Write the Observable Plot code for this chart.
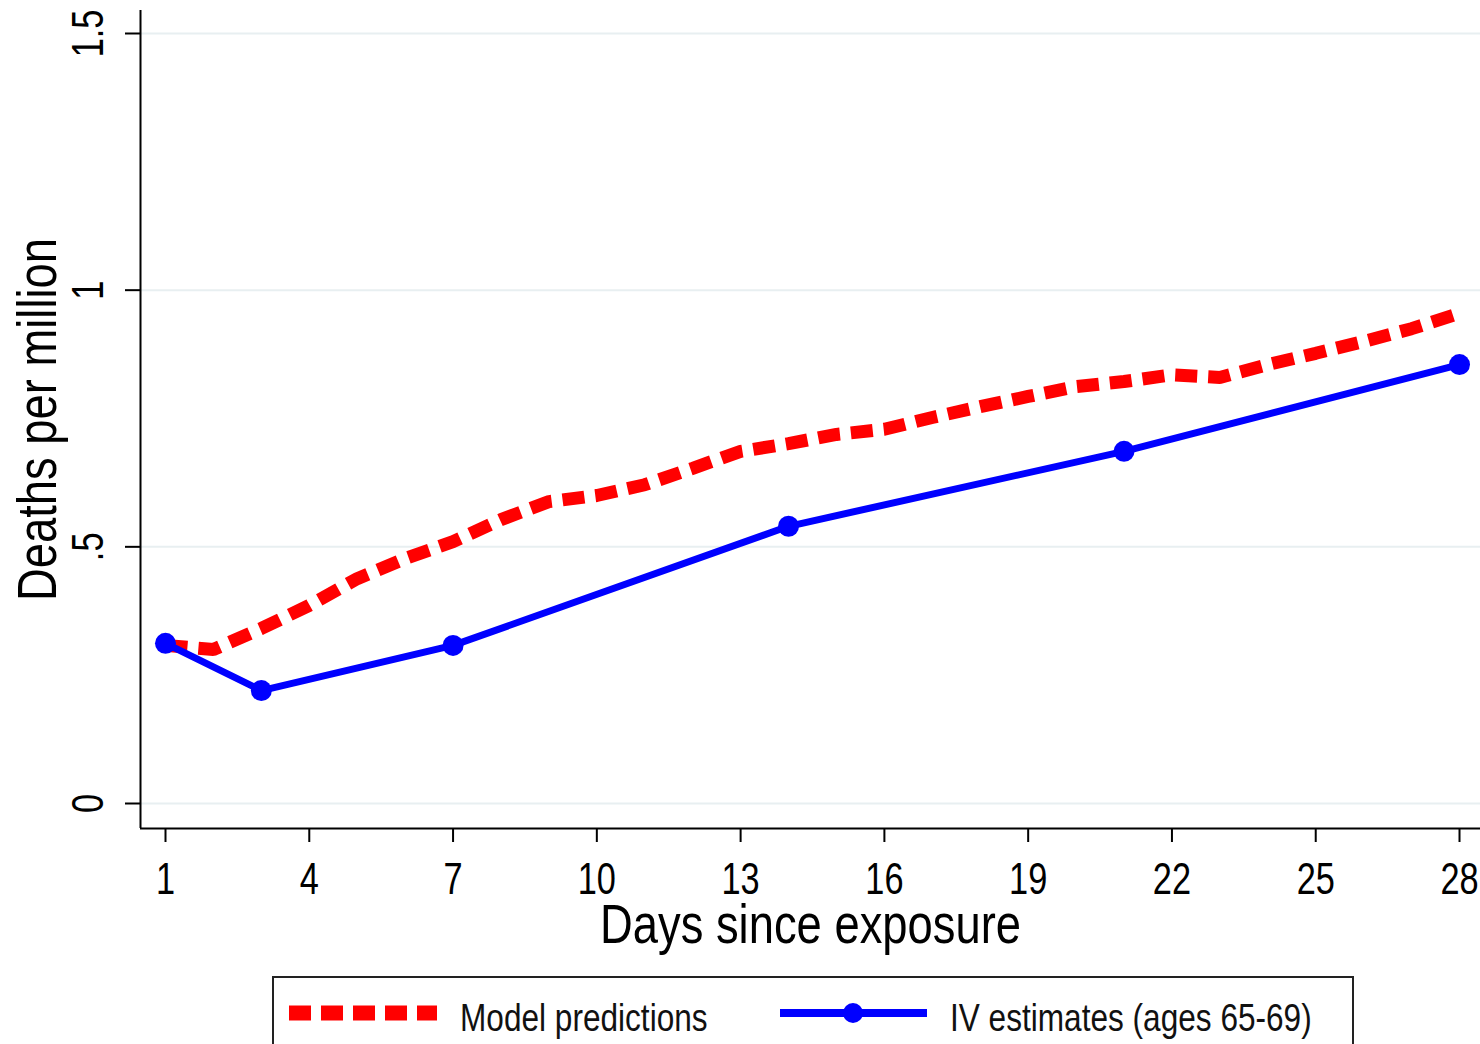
<!DOCTYPE html>
<html>
<head>
<meta charset="utf-8">
<script src="https://cdn.jsdelivr.net/npm/d3@7"></script>
<script src="https://cdn.jsdelivr.net/npm/@observablehq/plot@0.6"></script>
<style>
  html, body { margin: 0; padding: 0; background: #fff; }
  body { position: relative; width: 1480px; height: 1044px; overflow: hidden;
         font-family: "Liberation Sans Narrow", "Arial Narrow", "Liberation Sans", sans-serif; }
  #chart { position: absolute; left: 0; top: 0; }
  #legend { position: absolute; left: 272px; top: 976px; width: 1082px; height: 100px;
            border: 2px solid #222; box-sizing: border-box; background: #fff; }
  #legend svg { position: absolute; }
  #legend .lab { position: absolute; font-size: 39px; color: #111; line-height: 44px; white-space: nowrap;
                 transform: scaleX(0.81); transform-origin: 0 50%; }
</style>
</head>
<body>
<div id="chart"></div>
<div id="legend"></div>
<script>
// ---- data ----
const days = [1,2,3,4,5,6,7,8,9,10,11,12,13,14,15,16,17,18,19,20,21,22,23,24,25,26,27,28];
const modelPredictions = [0.308,0.300,0.341,0.386,0.438,0.477,0.510,0.553,0.588,0.600,0.621,0.653,0.686,0.701,0.719,0.729,0.752,0.773,0.793,0.812,0.822,0.835,0.830,0.855,0.877,0.900,0.925,0.955];
const ivDays = [1,3,7,14,21,28];
const ivEstimates = [0.312,0.220,0.308,0.540,0.686,0.855];
const xTicks = [1,4,7,10,13,16,19,22,25,28];
const yTicks = [0,0.5,1,1.5];
const yTickLabels = ["0",".5","1","1.5"];
const seriesNames = ["Model predictions","IV estimates (ages 65-69)"];
const xTitle = "Days since exposure";
const yTitle = "Deaths per million";

const modelData = days.map((d,i) => ({day: d, value: modelPredictions[i]}));
const ivData = ivDays.map((d,i) => ({day: d, value: ivEstimates[i]}));
const yLabelData = yTicks.map((v,i) => ({v, t: yTickLabels[i]}));

// ---- style / layout ----
const W = 1480, H = 965;
const xDomain = [0.4784, 28.438];
const yDomain = [-0.0487, 1.5448];
const RED = "#ff0000", BLUE = "#0000ff", GRID = "#e8eff1";
const FONT = '"Liberation Sans Narrow", "Arial Narrow", "Liberation Sans", sans-serif';

const chart = Plot.plot({
  width: W,
  height: H,
  marginLeft: 140,
  marginRight: 0,
  marginTop: 10,
  marginBottom: H - 828,
  style: {fontFamily: FONT, color: "#000", background: "#fff", overflow: "visible"},
  x: {domain: xDomain},
  y: {domain: yDomain},
  marks: [
    Plot.gridY(yTicks, {stroke: GRID, strokeOpacity: 1, strokeWidth: 2}),
    Plot.ruleX([xDomain[0]], {stroke: "#000", strokeWidth: 2}),
    Plot.ruleY([yDomain[0]], {stroke: "#000", strokeWidth: 2}),
    Plot.axisX({ticks: xTicks, tickSize: 14, tickPadding: 20, fontSize: 44, label: null, stroke: "#000", strokeWidth: 2}),
    Plot.axisY({ticks: yTicks, tickSize: 15, label: null, tickFormat: () => "", stroke: "#000", strokeWidth: 2}),
    Plot.text(yLabelData, {x: () => xDomain[0], y: "v", text: "t", rotate: -90, dx: -52,
      fontSize: 44, textAnchor: "middle", lineAnchor: "middle", fill: "#000"}),
    Plot.text([xTitle], {frameAnchor: "bottom", dy: 97, fontSize: 56, fill: "#000", lineAnchor: "middle", textAnchor: "middle"}),
    Plot.text([yTitle], {frameAnchor: "left", rotate: -90, dx: -102, fontSize: 56, fill: "#000", lineAnchor: "middle", textAnchor: "middle"}),
    Plot.line(modelData, {x: "day", y: "value", stroke: RED, strokeWidth: 13,
      strokeDasharray: "22,11", strokeLinecap: "butt", strokeLinejoin: "miter"}),
    Plot.line(ivData, {x: "day", y: "value", stroke: BLUE, strokeWidth: 7, strokeLinejoin: "round"}),
    Plot.dot(ivData, {x: "day", y: "value", fill: BLUE, r: 10.5, stroke: null})
  ]
});
document.getElementById("chart").appendChild(chart);

// condense text horizontally (emulate a narrow face) without moving anchors
d3.select(chart).selectAll("text").each(function() {
  const fs = parseFloat(getComputedStyle(this).fontSize);
  const k = fs >= 50 ? 0.81 : 0.78;
  const len = this.getComputedTextLength();
  if (len > 0) {
    this.setAttribute("textLength", (len * k).toFixed(1));
    this.setAttribute("lengthAdjust", "spacingAndGlyphs");
  }
});

// ---- legend ----
const legend = d3.select("#legend");
const s1 = legend.append("svg").attr("width", 150).attr("height", 30).style("left", "14px").style("top", "20px");
s1.append("line").attr("x1", 1).attr("x2", 149).attr("y1", 15).attr("y2", 15)
  .attr("stroke", RED).attr("stroke-width", 15).attr("stroke-dasharray", "22,10");
legend.append("div").attr("class", "lab").style("left", "186px").style("top", "18px").text(seriesNames[0]);

const s2 = legend.append("svg").attr("width", 150).attr("height", 30).style("left", "505px").style("top", "20px");
s2.append("line").attr("x1", 1).attr("x2", 148).attr("y1", 15).attr("y2", 15)
  .attr("stroke", BLUE).attr("stroke-width", 8);
s2.append("circle").attr("cx", 74).attr("cy", 15).attr("r", 10).attr("fill", BLUE);
legend.append("div").attr("class", "lab").style("left", "676px").style("top", "18px").text(seriesNames[1]);
</script>
</body>
</html>
